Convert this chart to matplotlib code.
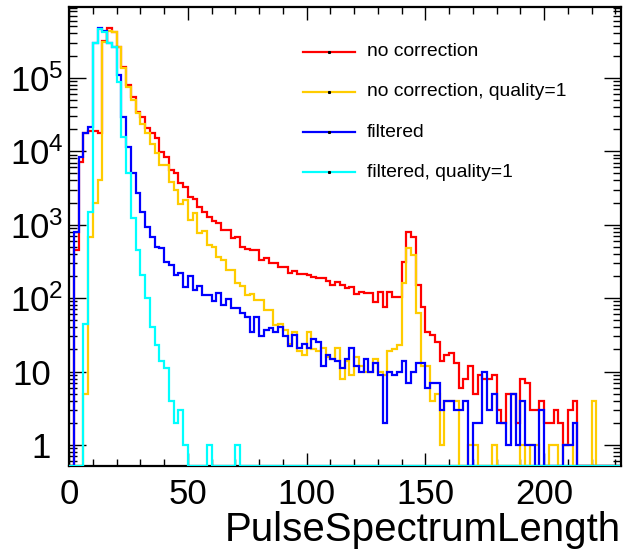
import matplotlib
matplotlib.use("Agg")
import matplotlib.pyplot as plt
import numpy as np
from matplotlib.ticker import FixedLocator, FixedFormatter, MultipleLocator, NullFormatter

plt.rcParams['font.family'] = ['Liberation Sans', 'DejaVu Sans']
plt.rcParams['mathtext.fontset'] = 'custom'
plt.rcParams['mathtext.rm'] = 'Liberation Sans'
plt.rcParams['mathtext.it'] = 'Liberation Sans:italic'
plt.rcParams['mathtext.bf'] = 'Liberation Sans:bold'

# histogram binning: 116 bins of width 2
bin_edges = np.arange(0, 234, 2)

# bin contents, one entry per bin
no_correction = [
    0, 450, 7050, 17500, 18800, 18800, 17900, 319000, 480000, 415000,
    264000, 141000, 79600, 55100, 34400, 29400, 20500, 17500, 15000, 9840,
    8410, 5540, 5000, 3650, 3280, 2400, 2210, 1760, 1500, 1285,
    1130, 1065, 845, 845, 651, 672, 501, 461, 452, 452,
    330, 355, 304, 304, 262, 262, 217, 236, 213, 213,
    206, 196, 186, 190, 171, 151, 167, 151, 136, 143,
    113, 122, 116, 116, 89, 122, 76, 122, 105, 105,
    313, 802, 686, 151, 76, 35, 31, 25, 14, 17,
    18, 13, 6, 8, 12, 5, 9, 8, 8, 9,
    3, 2, 5, 5, 2, 8, 7, 3, 3, 4,
    2, 2, 3, 2, 1, 3, 4, 0, 0, 0,
    0, 0, 0, 0, 0, 0]

no_correction_q1 = [
    0, 0, 0, 5, 685, 1950, 4050, 310000, 437000, 423000,
    264000, 134000, 75500, 49700, 33000, 23800, 17500, 12700, 9400, 6400,
    6400, 3820, 3000, 1890, 2160, 1155, 1425, 759, 826, 528,
    501, 367, 330, 241, 241, 159, 146, 110, 114, 94,
    94, 69, 69, 43, 44, 37, 24, 35, 19, 17,
    34, 20, 19, 21, 16, 15, 21, 8, 14, 9,
    16, 12, 10, 10, 15, 10, 9, 19, 20, 23,
    159, 476, 386, 62, 12, 12, 4, 5, 1, 4,
    4, 4, 0, 0, 1, 1, 0, 0, 0, 1,
    0, 0, 0, 0, 0, 1, 0, 1, 1, 0,
    0, 1, 1, 0, 1, 1, 0, 0, 0, 0,
    4, 0, 0, 0, 0, 0]

filtered = [
    0, 800, 8400, 17500, 21000, 294000, 470000, 437000, 300000, 260000,
    109000, 29400, 11400, 5000, 2670, 1500, 935, 685, 500, 475,
    312, 281, 206, 217, 143, 200, 129, 146, 110, 110,
    92, 116, 80, 96, 73, 73, 62, 56, 35, 56,
    30, 37, 39, 34, 41, 30, 22, 31, 21, 24,
    21, 28, 25, 12, 17, 15, 14, 11, 15, 21,
    12, 10, 15, 10, 13, 9, 2, 10, 9, 10,
    14, 7, 10, 13, 13, 6, 7, 7, 3, 4,
    4, 3, 3, 4, 0, 2, 2, 10, 3, 5,
    2, 2, 1, 5, 1, 4, 1, 1, 0, 3,
    0, 0, 0, 0, 1, 1, 2, 0, 0, 0,
    0, 0, 0, 0, 0, 0]

filtered_q1 = [
    0, 0, 0, 45, 1500, 294000, 458000, 420000, 294000, 264000,
    88000, 15700, 5000, 1220, 450, 206, 99, 41, 23, 14,
    11, 4, 2, 3, 1, 0, 0, 0, 0, 1,
    0, 0, 0, 0, 0, 1, 0, 0, 0, 0,
    0, 0, 0, 0, 0, 0, 0, 0, 0, 0,
    0, 0, 0, 0, 0, 0, 0, 0, 0, 0,
    0, 0, 0, 0, 0, 0, 0, 0, 0, 0,
    0, 0, 0, 0, 0, 0, 0, 0, 0, 0,
    0, 0, 0, 0, 0, 0, 0, 0, 0, 0,
    0, 0, 0, 0, 0, 0, 0, 0, 0, 0,
    0, 0, 0, 0, 0, 0, 0, 0, 0, 0,
    0, 0, 0, 0, 0, 0]

labels = ["no correction", "no correction, quality=1", "filtered", "filtered, quality=1"]
colors = ["#ff0000", "#ffcc00", "#0000ff", "#00ffff"]

ymin, ymax = 0.518, 9.08e5

fig = plt.figure(figsize=(6.24, 5.55), dpi=100)
ax = fig.add_axes([0.1106, 0.1604, 0.8846, 0.8264])

for vals, col in zip([no_correction, no_correction_q1, filtered, filtered_q1], colors):
    vals = np.asarray(vals, dtype=float)
    # empty bins sit on the lower edge, like ROOT does on a log axis
    ax.stairs(np.where(vals > 0, vals, ymin), bin_edges, color=col, lw=1.6,
              baseline=None, zorder=3)

ax.set_yscale("log")
ax.set_xlim(0, 232.4)
ax.set_ylim(ymin, ymax)

# axis ticks
ax.xaxis.set_major_locator(MultipleLocator(50))
ax.xaxis.set_minor_locator(MultipleLocator(10))
ax.yaxis.set_major_locator(FixedLocator([1, 10, 1e2, 1e3, 1e4, 1e5]))
ax.yaxis.set_major_formatter(FixedFormatter(
    ["1", "10", r"$10^{2}$", r"$10^{3}$", r"$10^{4}$", r"$10^{5}$"]))
minor = [m * 10.0 ** e for e in range(-1, 6) for m in range(2, 10)]
ax.yaxis.set_minor_locator(FixedLocator(minor))
ax.yaxis.set_minor_formatter(NullFormatter())

ax.tick_params(which="both", direction="in", top=True, right=True, width=1.0)
ax.tick_params(axis="x", which="major", length=9.5, labelsize=25, pad=9)
ax.tick_params(axis="x", which="minor", length=5)
ax.tick_params(axis="y", which="major", length=12, labelsize=25, pad=4)
ax.tick_params(axis="y", which="minor", length=6)
for sp in ax.spines.values():
    sp.set_linewidth(1.6)

# plain labels line up with the base of the 10^n labels
for t in ax.yaxis.get_major_ticks()[:2]:
    t.label1.set_x(-0.023)

ax.set_xlabel("PulseSpectrumLength", fontsize=29, loc="right", labelpad=0)

# legend drawn by hand in axes coordinates
leg_y = [0.903, 0.816, 0.728, 0.640]
for lab, col, y in zip(labels, colors, leg_y):
    ax.plot([0.4234, 0.5181], [y, y], color=col, lw=1.6, transform=ax.transAxes)
    ax.plot([0.4708], [y], marker="s", ms=1.2, color="k", transform=ax.transAxes)
    ax.text(0.5393, y, lab, fontsize=13.9, va="center", ha="left", transform=ax.transAxes)

fig.savefig("out.png", dpi=100)
